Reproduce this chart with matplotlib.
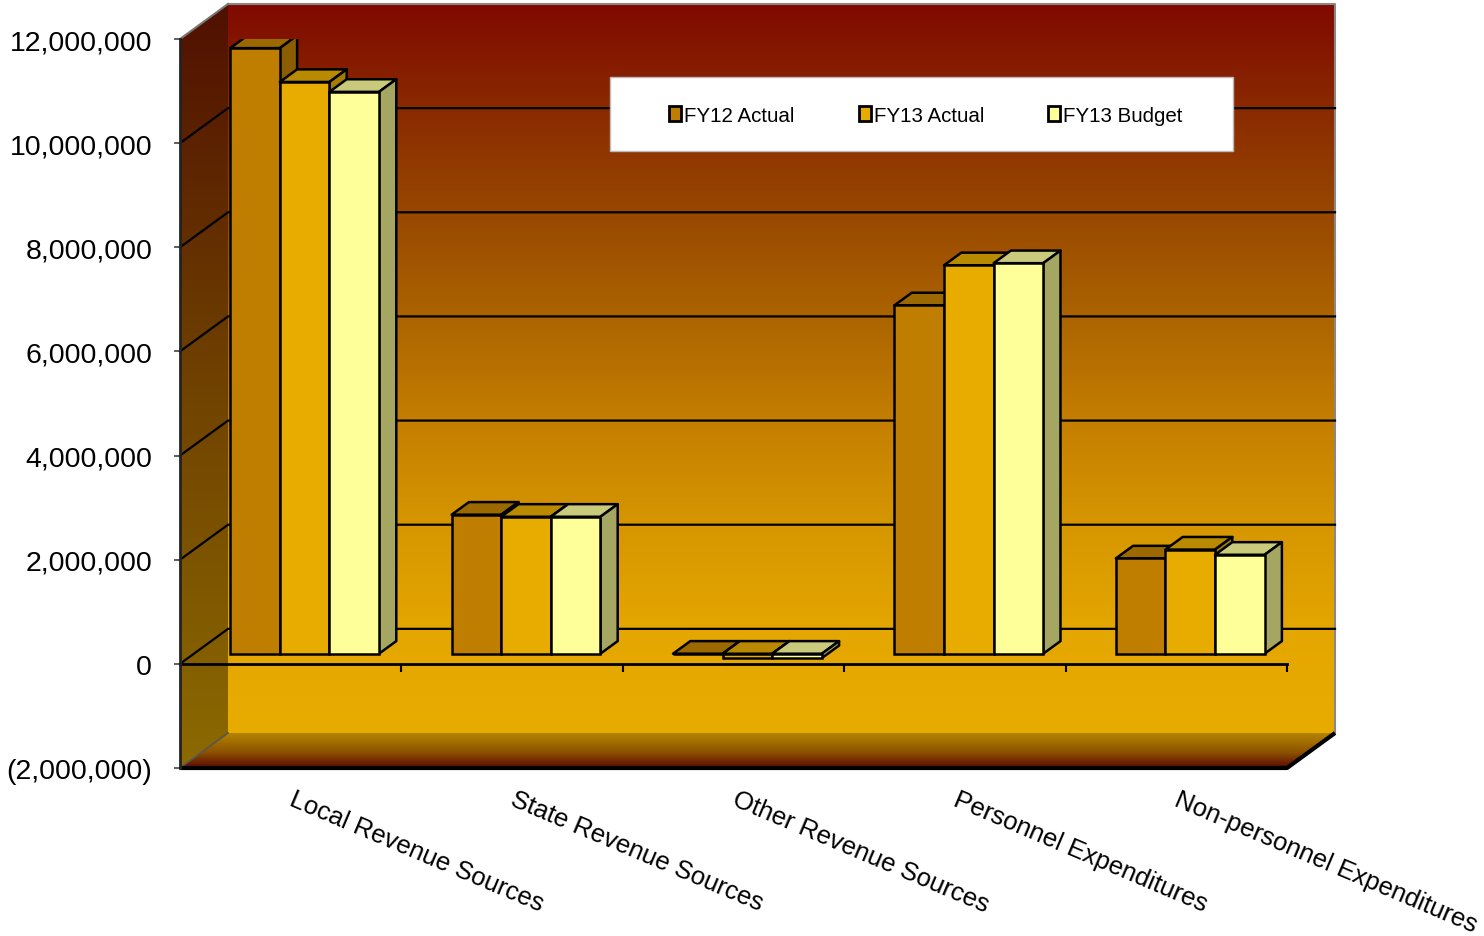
import numpy as np
import matplotlib
matplotlib.use("Agg")
import matplotlib.pyplot as plt
from matplotlib.patches import Polygon, Rectangle
from matplotlib.colors import LinearSegmentedColormap
from matplotlib.ticker import FuncFormatter
import matplotlib.transforms as mtransforms

plt.rcParams['font.family'] = ['Liberation Sans', 'DejaVu Sans']

# data
categories = ['Local Revenue Sources', 'State Revenue Sources', 'Other Revenue Sources',
              'Personnel Expenditures', 'Non-personnel Expenditures']
series = ['FY12 Actual', 'FY13 Actual', 'FY13 Budget']
fy12_actual = [11630000, 2670000, 0, 6690000, 1830000]
fy13_actual = [10980000, 2630000, -85000, 7460000, 2000000]
fy13_budget = [10790000, 2630000, -85000, 7500000, 1900000]
y_ticks = [-2000000, 0, 2000000, 4000000, 6000000, 8000000, 10000000, 12000000]

# face colours: front, top, side
front_cols = ['#C07E00', '#E8AC00', '#FFFF99']
top_cols = ['#9C6800', '#B98A00', '#CACA7C']
side_cols = ['#8A5E00', '#A57C00', '#A6A663']

W, H = 1484, 937
fig = plt.figure(figsize=(W / 100, H / 100), dpi=100)
ax = fig.add_axes([180 / W, 1 - 769 / H, (1287 - 180) / W, (769 - 40) / H])
ax.set_xlim(0, 5)
ax.set_ylim(-2e6, 12e6)
ax.patch.set_visible(False)

# depth of the 3d box in data units
DX = 48 / 221.4
DY = 35 * 14e6 / 729
ymin, ymax = -2e6, 12e6


def ramp(stops):
    return LinearSegmentedColormap.from_list('r', [(p, np.array(c) / 255) for p, c in stops])


def gradient_in(poly, cmap, extent, z):
    # vertical gradient clipped to a polygon (may stick out of the axes)
    patch = Polygon(poly, closed=True, transform=ax.transData,
                    facecolor='none', edgecolor='none')
    ax.add_patch(patch)
    patch.set_clip_on(False)
    im = ax.imshow(grad, cmap=cmap, origin='lower', aspect='auto', zorder=z, extent=extent)
    im.set_clip_box(fig.bbox)
    im.set_clip_path(patch)
    return im


grad = np.linspace(0, 1, 256).reshape(-1, 1)

# back wall
wall_cmap = ramp([(0.0, (232, 172, 0)), (0.143, (228, 166, 0)), (0.286, (214, 150, 0)),
                  (0.43, (196, 126, 0)), (0.57, (172, 100, 0)), (0.714, (152, 72, 0)),
                  (0.857, (138, 42, 0)), (1.0, (128, 10, 0))])
ax.imshow(grad, cmap=wall_cmap, origin='lower', aspect='auto', zorder=0,
          extent=[DX, 5 + DX, ymin + DY, ymax + DY], clip_on=False)
ax.plot([DX, 5 + DX, 5 + DX], [ymax + DY, ymax + DY, ymin + DY], color='#888888',
        lw=1.5, zorder=1, clip_on=False)

# left wall
left_cmap = ramp([(0.0, (140, 106, 0)), (0.5, (112, 66, 0)), (1.0, (80, 16, 0))])
gradient_in([(0, ymin), (0, ymax), (DX, ymax + DY), (DX, ymin + DY)], left_cmap,
            [0, DX, ymin, ymax + DY], 0.5)
ax.plot([0, DX], [ymax, ymax + DY], color='#777777', lw=1.5, zorder=1, clip_on=False)

# floor
floor_cmap = ramp([(0.0, (92, 8, 0)), (0.45, (140, 82, 0)), (1.0, (180, 132, 0))])
gradient_in([(0, ymin), (5, ymin), (5 + DX, ymin + DY), (DX, ymin + DY)], floor_cmap,
            [0, 5 + DX, ymin, ymin + DY], 0.5)
ax.plot([0, 5, 5 + DX], [ymin, ymin, ymin + DY], color='black', lw=3, zorder=1.5,
        clip_on=False, solid_capstyle='butt')
ax.plot([DX, 0], [ymin + DY, ymin], color='#555555', lw=1.2, zorder=1, clip_on=False)

# gridlines on the walls
for v in y_ticks[1:-1]:
    ax.plot([0, DX, 5 + DX], [v, v + DY, v + DY], color='black', lw=1.6, zorder=1,
            clip_on=False)

ax.set_xlim(0, 5)
ax.set_ylim(ymin, ymax)

# bars
w = 0.224
z0, z1 = 0.29, 0.65
bdx, bdy = (z1 - z0) * DX, (z1 - z0) * DY
values = [fy12_actual, fy13_actual, fy13_budget]
x_idx = np.arange(len(categories))
for j, vals in enumerate(values):
    vals = np.array(vals, dtype=float)
    left = x_idx + 0.5 - 1.5 * w + j * w + z0 * DX
    bottom = np.minimum(vals, 0) + z0 * DY
    height = np.abs(vals)
    ax.bar(left, height, width=w, bottom=bottom, align='edge', color=front_cols[j],
           edgecolor='black', linewidth=1.8, zorder=3.05 + j * 0.1)
    for x0, b, v in zip(left, bottom, vals):
        t = b + abs(v)
        x1 = x0 + w
        top = Polygon([(x0, t), (x1, t), (x1 + bdx, t + bdy), (x0 + bdx, t + bdy)],
                      closed=True, facecolor=top_cols[j], edgecolor='black', lw=1.8,
                      zorder=3 + j * 0.1, joinstyle='round')
        side = Polygon([(x1, b), (x1 + bdx, b + bdy), (x1 + bdx, t + bdy), (x1, t)],
                       closed=True, facecolor=side_cols[j], edgecolor='black', lw=1.8,
                       zorder=3 + j * 0.1, joinstyle='round')
        ax.add_patch(top)
        ax.add_patch(side)

# axes
for s in ['top', 'right']:
    ax.spines[s].set_visible(False)
ax.spines['bottom'].set_position(('data', 0))
ax.spines['bottom'].set_linewidth(2)
ax.spines['bottom'].set_zorder(2)
ax.spines['left'].set_linewidth(2)
ax.spines['left'].set_color('#222222')
ax.set_xticks(np.arange(1, 6))
ax.set_xticklabels([])
ax.tick_params(axis='x', direction='out', length=6, width=1.5)
ax.set_yticks(y_ticks)
ax.yaxis.set_major_formatter(FuncFormatter(
    lambda v, p: f'({abs(v):,.0f})' if v < 0 else f'{v:,.0f}'))
ax.tick_params(axis='y', direction='out', length=4, width=1.2, pad=16,
               labelsize=20.5, color='#444444')

trans = mtransforms.blended_transform_factory(ax.transData, ax.transAxes)
for i, c in enumerate(categories):
    ax.text(i + 0.52, -0.026, c, transform=trans, rotation=-23, rotation_mode='anchor',
            ha='left', va='top', fontsize=18.5)

# legend
fig.patches.append(Rectangle((610 / W, 1 - 152 / H), 623 / W, 74 / H,
                             transform=fig.transFigure, facecolor='white',
                             edgecolor='#bbbbbb', lw=1, zorder=5))
handles = [Rectangle((0, 0), 1, 1, facecolor=front_cols[j], edgecolor='black', lw=2)
           for j in range(3)]
leg = fig.legend(handles, series, ncol=3, loc='center', frameon=False,
                 bbox_to_anchor=((610 + 1233) / 2 / W + 0.003, 1 - 116 / H),
                 fontsize=14.8, handlelength=0.6, handleheight=0.7,
                 handletextpad=0.15, columnspacing=3.1)
leg.set_zorder(6)

fig.savefig('out.png', dpi=100)
